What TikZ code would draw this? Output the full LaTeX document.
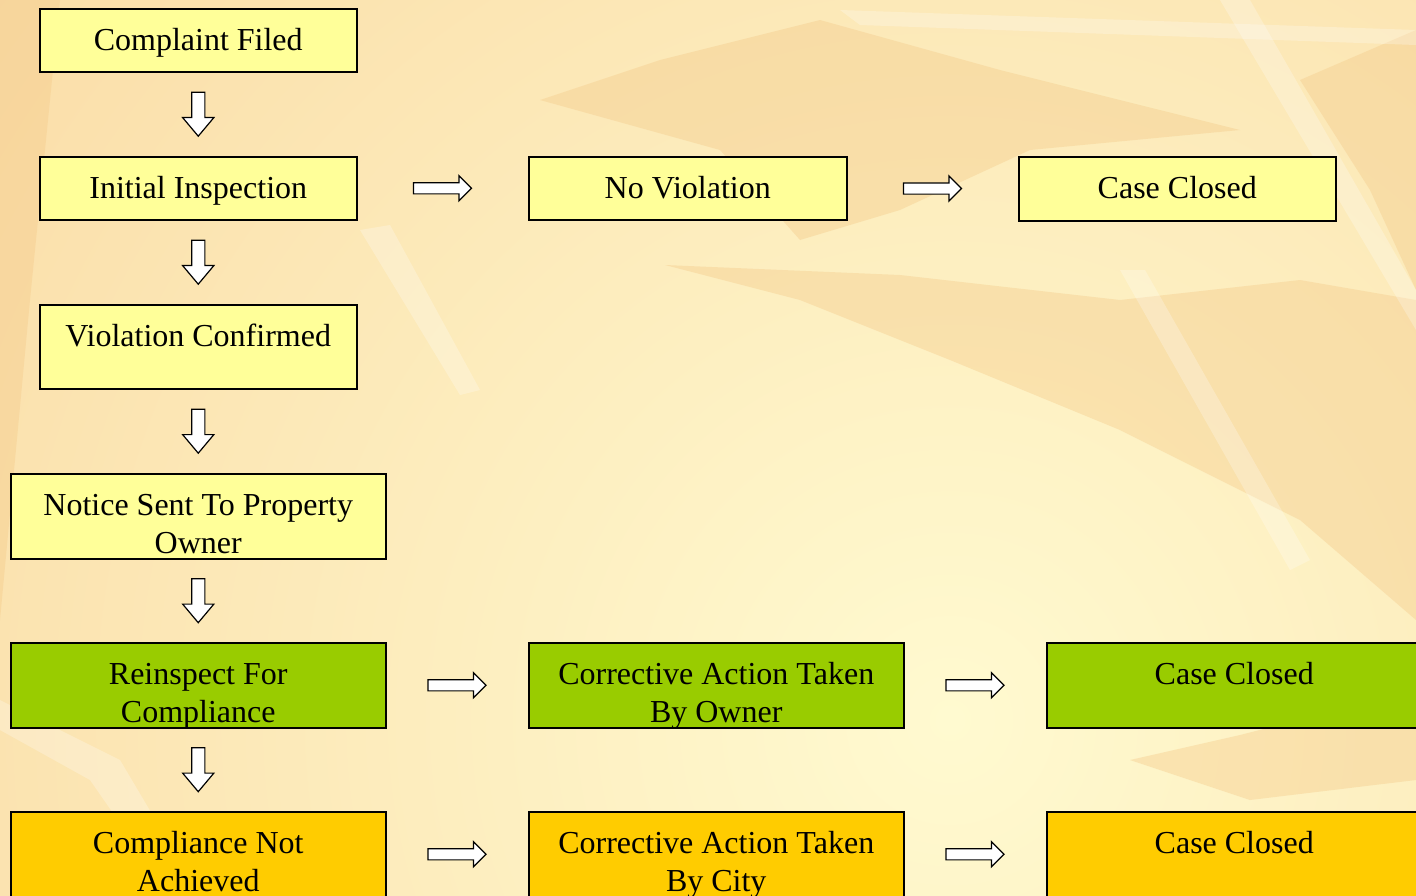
\documentclass[tikz,border=0pt]{standalone}
\usepackage{fontspec}
\setmainfont{Liberation Serif}
\usetikzlibrary{shapes.arrows, calc}
\definecolor{boxyellow}{RGB}{255,255,153}
\definecolor{boxgreen}{RGB}{153,204,0}
\definecolor{boxorange}{RGB}{255,204,0}
\definecolor{bgpeach}{RGB}{249,214,158}
\definecolor{bglight}{RGB}{255,250,208}
\definecolor{leafdark}{RGB}{244,202,138}

\newcommand{\flowtext}[3]{\parbox[c][#2pt][t]{#1pt}{\centering\vspace*{15pt}\strut #3}}

\tikzset{
flowbox/.style={draw=black, line width=1.5pt, inner sep=0pt, anchor=north west, font=\fontsize{32}{38}\selectfont},
downarrow/.style={single arrow, draw=black, fill=white, line width=1.2pt, inner xsep=6pt, inner ysep=0pt, minimum height=44pt, single arrow head extend=9pt, single arrow tip angle=80, shape border rotate=270, yshift=4pt},
rightarrow/.style={single arrow, draw=black, fill=white, line width=1.2pt, inner xsep=0pt, inner ysep=5pt, minimum height=58pt, single arrow head extend=7pt, single arrow tip angle=90, xshift=-3pt},
leaf/.style={fill=leafdark, opacity=0.4},
streak/.style={fill=white, opacity=0.25}
}

\begin{document}
\begin{tikzpicture}[x=1pt,y=-1pt]

% background
\clip (0,0) rectangle (1416,895);
\fill[bgpeach] (0,0) rectangle (1416,895);
\shade[inner color=bglight, outer color=bgpeach] (950,720) circle[radius=1500];
\fill[leaf] (540,100) -- (660,60) -- (820,20) -- (1000,70) -- (1240,130) -- (1030,150) -- (900,210) -- (800,240) -- (720,150) -- cycle;
\fill[leaf] (665,265) -- (900,275) -- (1120,300) -- (1300,280) -- (1416,300) -- (1416,620) -- (1300,520) -- (1120,430) -- (950,360) -- (800,300) -- cycle;
\fill[leaf] (1300,80) -- (1416,30) -- (1416,290) -- (1370,190) -- cycle;
\fill[leaf] (0,0) -- (60,0) -- (30,300) -- (0,620) -- cycle;
\fill[leaf] (1130,760) -- (1240,735) -- (1416,690) -- (1416,780) -- (1250,800) -- cycle;
\fill[streak] (1220,0) -- (1250,0) -- (1416,290) -- (1416,330) -- cycle;
\fill[streak] (1120,270) -- (1145,270) -- (1310,560) -- (1290,570) -- cycle;
\fill[streak] (360,230) -- (390,225) -- (480,390) -- (460,395) -- cycle;
\fill[streak] (840,10) -- (1416,30) -- (1416,45) -- (860,25) -- cycle;
\fill[streak] (0,700) -- (120,760) -- (200,895) -- (170,895) -- (90,780) -- (0,730) -- cycle;

% boxes
\node[flowbox, fill=boxyellow] (filed) at (39,8) {\flowtext{317}{63}{Complaint Filed}};
\node[flowbox, fill=boxyellow] (inspect) at (39,156) {\flowtext{317}{63}{Initial Inspection}};
\node[flowbox, fill=boxyellow] (confirmed) at (39,304) {\flowtext{317}{84}{Violation Confirmed}};
\node[flowbox, fill=boxyellow] (notice) at (10,473) {\flowtext{375}{85}{Notice Sent To Property\\Owner}};
\node[flowbox, fill=boxgreen] (reinspect) at (10,642) {\flowtext{375}{85}{Reinspect For\\Compliance}};
\node[flowbox, fill=boxorange] (notachieved) at (10,811) {\flowtext{375}{85}{Compliance Not\\Achieved}};

\node[flowbox, fill=boxyellow] (noviol) at (528,156) {\flowtext{318}{63}{No Violation}};
\node[flowbox, fill=boxyellow] (closedA) at (1018,156) {\flowtext{317}{64}{Case Closed}};
\node[flowbox, fill=boxgreen] (byowner) at (528,642) {\flowtext{375}{85}{Corrective Action Taken\\By Owner}};
\node[flowbox, fill=boxgreen] (closedB) at (1046,642) {\flowtext{375}{85}{Case Closed}};
\node[flowbox, fill=boxorange] (bycity) at (528,811) {\flowtext{375}{85}{Corrective Action Taken\\By City}};
\node[flowbox, fill=boxorange] (closedC) at (1046,811) {\flowtext{375}{85}{Case Closed}};

% arrows
\node[downarrow] (dA) at ($(filed.south)!0.5!(inspect.north)$) {};
\node[downarrow] (dB) at ($(inspect.south)!0.5!(confirmed.north)$) {};
\node[downarrow] (dC) at ($(confirmed.south)!0.5!(notice.north)$) {};
\node[downarrow] (dD) at ($(notice.south)!0.5!(reinspect.north)$) {};
\node[downarrow] (dE) at ($(reinspect.south)!0.5!(notachieved.north)$) {};

\node[rightarrow] (rA) at ($(inspect.east)!0.5!(noviol.west)$) {};
\node[rightarrow] (rB) at ($(noviol.east)!0.5!(closedA.west)$) {};
\node[rightarrow] (rC) at ($(reinspect.east)!0.5!(byowner.west)$) {};
\node[rightarrow] (rD) at ($(byowner.east)!0.5!(closedB.west)$) {};
\node[rightarrow] (rE) at ($(notachieved.east)!0.5!(bycity.west)$) {};
\node[rightarrow] (rF) at ($(bycity.east)!0.5!(closedC.west)$) {};

\end{tikzpicture}
\end{document}
